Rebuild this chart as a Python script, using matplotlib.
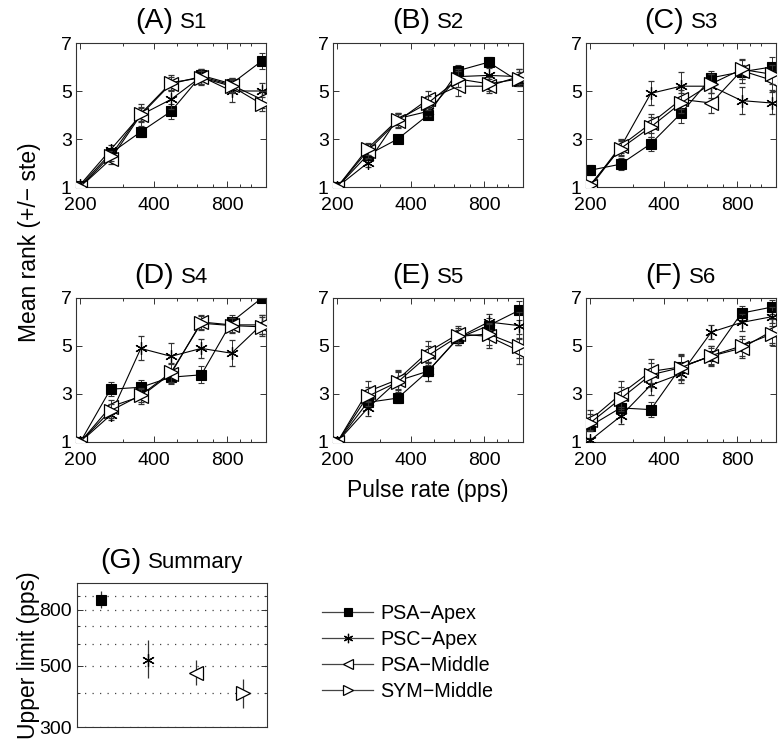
import matplotlib
matplotlib.use("Agg")
import matplotlib.pyplot as plt
import numpy as np
from matplotlib.ticker import FixedLocator, NullFormatter, FixedFormatter
from matplotlib.offsetbox import TextArea, HPacker, AnchoredOffsetbox
from matplotlib.lines import Line2D

plt.rcParams['font.family'] = ['Liberation Sans', 'DejaVu Sans']

# ---------------- data ----------------
rates = [200, 266, 354, 471, 627, 834, 1110]
series_names = ["PSA\u2212Apex", "PSC\u2212Apex", "PSA\u2212Middle", "SYM\u2212Middle"]
panel_letters = ["(A)", "(B)", "(C)", "(D)", "(E)", "(F)"]
subjects = ["S1", "S2", "S3", "S4", "S5", "S6"]

# S1
s1_psa_apex = [1.05, 2.40, 3.30, 4.15, 5.65, 5.30, 6.25]
s1_psc_apex = [1.10, 2.55, 4.00, 4.65, 5.60, 5.00, 5.00]
s1_psa_mid = [1.00, 2.15, 4.00, 5.30, 5.60, 5.25, 4.65]
s1_sym_mid = [1.00, 2.30, 4.05, 5.35, 5.55, 5.20, 4.45]
s1_err_psa_apex = [0.05, 0.15, 0.20, 0.30, 0.20, 0.25, 0.35]
s1_err_psc_apex = [0.10, 0.20, 0.45, 0.40, 0.30, 0.45, 0.35]
s1_err_psa_mid = [0.00, 0.20, 0.30, 0.30, 0.30, 0.30, 0.35]
s1_err_sym_mid = [0.00, 0.20, 0.30, 0.30, 0.30, 0.30, 0.30]
# S2
s2_psa_apex = [1.00, 2.33, 3.00, 4.00, 5.85, 6.20, 5.40]
s2_psc_apex = [1.00, 2.00, 3.85, 4.15, 5.60, 5.65, 5.60]
s2_psa_mid = [1.00, 2.50, 3.75, 4.65, 5.20, 5.20, 5.60]
s2_sym_mid = [1.00, 2.60, 3.80, 4.50, 5.50, 5.30, 5.50]
s2_err_psa_apex = [0.00, 0.10, 0.10, 0.15, 0.25, 0.20, 0.15]
s2_err_psc_apex = [0.00, 0.15, 0.25, 0.20, 0.30, 0.30, 0.30]
s2_err_psa_mid = [0.00, 0.30, 0.30, 0.35, 0.40, 0.30, 0.30]
s2_err_sym_mid = [0.00, 0.25, 0.30, 0.30, 0.35, 0.30, 0.30]
# S3
s3_psa_apex = [1.70, 1.95, 2.80, 4.07, 5.55, 5.80, 6.00]
s3_psc_apex = [1.00, 2.65, 4.90, 5.20, 5.20, 4.60, 4.50]
s3_psa_mid = [1.05, 2.70, 3.65, 4.65, 4.50, 5.85, 5.45]
s3_sym_mid = [1.10, 2.60, 3.50, 4.50, 5.30, 5.90, 5.70]
s3_err_psa_apex = [0.20, 0.25, 0.30, 0.40, 0.30, 0.30, 0.40]
s3_err_psc_apex = [0.10, 0.30, 0.50, 0.60, 0.50, 0.55, 0.45]
s3_err_psa_mid = [0.10, 0.30, 0.40, 0.40, 0.40, 0.50, 0.40]
s3_err_sym_mid = [0.10, 0.30, 0.40, 0.40, 0.40, 0.40, 0.40]
# S4
s4_psa_apex = [1.00, 3.20, 3.28, 3.70, 3.80, 6.00, 7.00]
s4_psc_apex = [1.00, 2.12, 4.90, 4.57, 4.90, 4.70, 5.90]
s4_psa_mid = [1.00, 2.47, 2.90, 3.85, 6.00, 5.88, 5.88]
s4_sym_mid = [1.00, 2.30, 2.95, 3.90, 5.95, 5.85, 5.80]
s4_err_psa_apex = [0.00, 0.30, 0.30, 0.30, 0.35, 0.30, 0.00]
s4_err_psc_apex = [0.00, 0.20, 0.50, 0.55, 0.40, 0.55, 0.40]
s4_err_psa_mid = [0.00, 0.30, 0.30, 0.40, 0.30, 0.30, 0.40]
s4_err_sym_mid = [0.00, 0.30, 0.30, 0.40, 0.30, 0.30, 0.40]
# S5
s5_psa_apex = [1.00, 2.65, 2.83, 3.95, 5.33, 5.85, 6.48]
s5_psc_apex = [1.00, 2.40, 3.55, 3.95, 5.35, 6.00, 5.85]
s5_psa_mid = [1.00, 3.10, 3.60, 4.75, 5.50, 5.40, 4.80]
s5_sym_mid = [1.00, 2.90, 3.50, 4.60, 5.40, 5.50, 5.00]
s5_err_psa_apex = [0.00, 0.25, 0.20, 0.40, 0.30, 0.30, 0.40]
s5_err_psc_apex = [0.00, 0.30, 0.40, 0.40, 0.30, 0.35, 0.55]
s5_err_psa_mid = [0.00, 0.45, 0.40, 0.45, 0.35, 0.50, 0.55]
s5_err_sym_mid = [0.00, 0.40, 0.40, 0.40, 0.35, 0.45, 0.50]
# S6
s6_psa_apex = [1.67, 2.42, 2.35, 4.13, 4.58, 6.37, 6.62]
s6_psc_apex = [1.07, 2.07, 3.37, 3.84, 5.58, 5.98, 6.22]
s6_psa_mid = [1.92, 2.99, 3.94, 4.13, 4.58, 4.91, 5.62]
s6_sym_mid = [1.80, 2.80, 3.80, 4.10, 4.60, 5.00, 5.50]
s6_err_psa_apex = [0.20, 0.30, 0.30, 0.50, 0.35, 0.30, 0.30]
s6_err_psc_apex = [0.10, 0.30, 0.40, 0.40, 0.30, 0.35, 0.40]
s6_err_psa_mid = [0.40, 0.55, 0.50, 0.55, 0.40, 0.40, 0.50]
s6_err_sym_mid = [0.35, 0.50, 0.50, 0.50, 0.40, 0.40, 0.45]

panel_means = [
    [s1_psa_apex, s1_psc_apex, s1_psa_mid, s1_sym_mid],
    [s2_psa_apex, s2_psc_apex, s2_psa_mid, s2_sym_mid],
    [s3_psa_apex, s3_psc_apex, s3_psa_mid, s3_sym_mid],
    [s4_psa_apex, s4_psc_apex, s4_psa_mid, s4_sym_mid],
    [s5_psa_apex, s5_psc_apex, s5_psa_mid, s5_sym_mid],
    [s6_psa_apex, s6_psc_apex, s6_psa_mid, s6_sym_mid],
]
panel_errs = [
    [s1_err_psa_apex, s1_err_psc_apex, s1_err_psa_mid, s1_err_sym_mid],
    [s2_err_psa_apex, s2_err_psc_apex, s2_err_psa_mid, s2_err_sym_mid],
    [s3_err_psa_apex, s3_err_psc_apex, s3_err_psa_mid, s3_err_sym_mid],
    [s4_err_psa_apex, s4_err_psc_apex, s4_err_psa_mid, s4_err_sym_mid],
    [s5_err_psa_apex, s5_err_psc_apex, s5_err_psa_mid, s5_err_sym_mid],
    [s6_err_psa_apex, s6_err_psc_apex, s6_err_psa_mid, s6_err_sym_mid],
]

# Summary (G)
summary_pos = [1, 2, 3, 4]
summary_mean = [870, 527, 473, 398]
summary_low = [808, 451, 426, 353]
summary_high = [939, 619, 527, 447]

# ---------------- styles ----------------
ASTER = (6, 2, 0)
styles = [
    dict(marker='s', ms=7.5, mfc='k', mec='k'),
    dict(marker=ASTER, ms=9, mfc='k', mec='k', mew=0.9),
    dict(marker='<', ms=9.5, mfc='white', mec='k', mew=0.9),
    dict(marker='>', ms=9.5, mfc='white', mec='k', mew=0.9),
]

W, H = 780, 740
fig = plt.figure(figsize=(W / 100, H / 100), dpi=100)

col_left = [76, 333, 586]
row_top = [43, 298]
aw, ah = 190, 144


def add_title(ax, letter, subj):
    t1 = TextArea(letter, textprops=dict(size=20.5, color='k'))
    t2 = TextArea(subj, textprops=dict(size=16, color='k'))
    box = HPacker(children=[t1, t2], align="baseline", pad=0, sep=5)
    anch = AnchoredOffsetbox(loc='lower center', child=box, pad=0, frameon=False,
                             bbox_to_anchor=(0.5, 1.0), bbox_transform=ax.transAxes,
                             borderpad=0.65, prop=dict(size=10))
    ax.add_artist(anch)


def style_axes(ax):
    for s in ax.spines.values():
        s.set_linewidth(0.8)
        s.set_color('#333333')
    ax.tick_params(which='both', direction='in', top=True, right=True,
                   labelsize=14, colors='#333333', labelcolor='k', width=0.7)
    ax.tick_params(which='major', length=4)
    ax.tick_params(which='minor', length=2.5)


axes = []
for i in range(6):
    r, c = divmod(i, 3)
    left = col_left[c] / W
    bottom = 1 - (row_top[r] + ah) / H
    ax = fig.add_axes([left, bottom, aw / W, ah / H])
    axes.append(ax)
    for k in range(4):
        st = styles[k]
        ax.errorbar(rates, panel_means[i][k], yerr=panel_errs[i][k], color='k', lw=0.8,
                    elinewidth=0.7, capsize=2, capthick=0.7, ecolor='#333333',
                    marker=st['marker'], ms=st['ms'], mfc=st['mfc'], mec=st['mec'],
                    mew=st.get('mew', 0.8), zorder=2 + k)
    ax.set_xscale('log')
    ax.set_xlim(192, 1155)
    ax.set_ylim(1, 7)
    ax.xaxis.set_major_locator(FixedLocator([200, 400, 800]))
    ax.xaxis.set_major_formatter(FixedFormatter(['200', '400', '800']))
    ax.xaxis.set_minor_locator(FixedLocator([300, 500, 600, 700, 900, 1000]))
    ax.xaxis.set_minor_formatter(NullFormatter())
    ax.set_yticks([1, 3, 5, 7])
    style_axes(ax)
    ax.tick_params(axis='y', pad=3)
    ax.tick_params(axis='x', pad=7)
    add_title(ax, panel_letters[i], subjects[i])

fig.text(30 / W, 1 - 242 / H, "Mean rank (+/\u2212 ste)", rotation=90, ha='center',
         va='center', size=16.5)
fig.text(428 / W, 1 - 490 / H, "Pulse rate (pps)", ha='center', va='center', size=16.5)

# Summary axes
axg = fig.add_axes([77 / W, 1 - 727 / H, 190 / W, 144 / H])
for k in range(4):
    st = styles[k]
    yerr = [[summary_mean[k] - summary_low[k]], [summary_high[k] - summary_mean[k]]]
    axg.errorbar([summary_pos[k]], [summary_mean[k]], yerr=yerr, color='k', lw=0.8,
                 elinewidth=0.9, capsize=0, ecolor='#333333',
                 marker=st['marker'], ms=st['ms'], mfc=st['mfc'], mec=st['mec'],
                 mew=st.get('mew', 0.8), zorder=3)
axg.set_yscale('log')
axg.set_ylim(300, 1000)
axg.set_xlim(0.5, 4.5)
axg.yaxis.set_major_locator(FixedLocator([300, 500, 800]))
axg.yaxis.set_major_formatter(FixedFormatter(['300', '500', '800']))
axg.yaxis.set_minor_locator(FixedLocator([400, 600, 700, 900]))
axg.yaxis.set_minor_formatter(NullFormatter())
axg.set_xticks([])
style_axes(axg)
axg.tick_params(axis='y', pad=4)
axg.grid(True, which='both', axis='y', linestyle=(0, (1, 5)), color='#444444', lw=0.9)
add_title(axg, "(G)", "Summary")
fig.text(29 / W, 1 - 655 / H, "Upper limit (pps)", rotation=90, ha='center',
         va='center', size=16.5)

# Legend
handles = []
for k in range(4):
    st = styles[k]
    handles.append(Line2D([0], [0], color='#444444', lw=0.9, marker=st['marker'],
                          ms=st['ms'] * 0.75, mfc=st['mfc'], mec='k',
                          mew=st.get('mew', 0.8)))
fig.legend(handles, series_names, loc='upper left', bbox_to_anchor=(322 / W, 1 - 604 / H),
           frameon=False, fontsize=14.2, handlelength=2.6, handletextpad=0.35,
           labelspacing=0.36, borderpad=0, borderaxespad=0)

fig.savefig("out.png", dpi=100)
